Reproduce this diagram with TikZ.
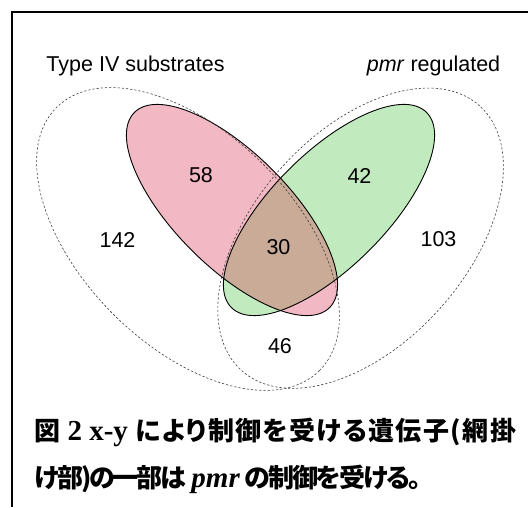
\documentclass[tikz,border=0pt]{standalone}
\usepackage{fontspec}
\setmainfont{Liberation Sans}
\newfontfamily\cjk[RawFeature=+palt, LetterSpace=-8]{Noto Sans CJK JP}
\newfontfamily\cjkwide[RawFeature=+palt, LetterSpace=5.5]{Noto Sans CJK JP}
\newfontfamily\serifb{Liberation Serif}
\newcommand{\latbig}{\fontsize{29}{30}\selectfont\serifb\bfseries}
\definecolor{pinkfill}{RGB}{242,184,195}
\definecolor{greenfill}{RGB}{193,235,190}
\definecolor{brownfill}{RGB}{201,171,151}
\definecolor{dashgray}{RGB}{60,60,60}
\tikzset{
  setline/.style={draw=black, line width=0.9pt},
  outerset/.style={draw=dashgray, line width=0.6pt, dash pattern=on 2.2pt off 2pt},
  num/.style={font=\fontsize{21.5}{24}\selectfont, anchor=base, inner sep=0pt},
  title/.style={font=\fontsize{21.5}{24}\selectfont, anchor=base, inner sep=0pt},
  caption/.style={font=\fontsize{26}{30}\selectfont\bfseries, anchor=base west, inner sep=0pt},
  frameline/.style={draw=black, line width=1.6pt}
}
\begin{document}
\begin{tikzpicture}[x=1pt,y=1pt]
\useasboundingbox (0,0) rectangle (528,507);
% frame
\coordinate (fl) at (12,0);
\coordinate (fc) at (12,495);
\coordinate (fr) at (528,495);
\draw[frameline] (fl) -- (fc) -- (fr);
% filled ellipses
\fill[pinkfill, rotate around={-45:(232,297)}] (232,297) ellipse [x radius=138pt, y radius=57pt];
\fill[greenfill, rotate around={45:(329,297)}] (329,297) ellipse [x radius=138pt, y radius=57pt];
\begin{scope}
  \clip[rotate around={-45:(232,297)}] (232,297) ellipse [x radius=138pt, y radius=57pt];
  \fill[brownfill, rotate around={45:(329,297)}] (329,297) ellipse [x radius=138pt, y radius=57pt];
\end{scope}
\draw[setline, rotate around={-45:(232,297)}] (232,297) ellipse [x radius=138pt, y radius=57pt];
\draw[setline, rotate around={45:(329,297)}] (329,297) ellipse [x radius=138pt, y radius=57pt];
% dashed outer sets
\draw[outerset, rotate around={-45:(188,268)}] (188,268) ellipse [x radius=186pt, y radius=106pt];
\draw[outerset, rotate around={48:(360.6,268.8)}] (360.6,268.8) ellipse [x radius=178pt, y radius=106pt];
% titles
\node[title] (tl) at (135.5,435) {Type IV substrates};
\node[title] (tr) at (433.5,435) {\textit{pmr} regulated};
% numbers
\node[num] (n58) at (201,324) {58};
\node[num] (n42) at (359.5,323) {42};
\node[num] (n142) at (117.5,259) {142};
\node[num] (n30) at (278.5,252) {30};
\node[num] (n103) at (438.5,260) {103};
\node[num] (n46) at (280,154) {46};
% caption
\node[caption] (cap1) at (34,67) {\cjkwide 図 {\latbig 2 x-y} により制御を受ける遺伝子(網掛};
\node[caption] (cap2) at (34,20) {\cjk け部)の一部は\hspace{5pt}{\latbig\itshape pmr}\hspace{5pt}の制御を受ける。};
\end{tikzpicture}
\end{document}
